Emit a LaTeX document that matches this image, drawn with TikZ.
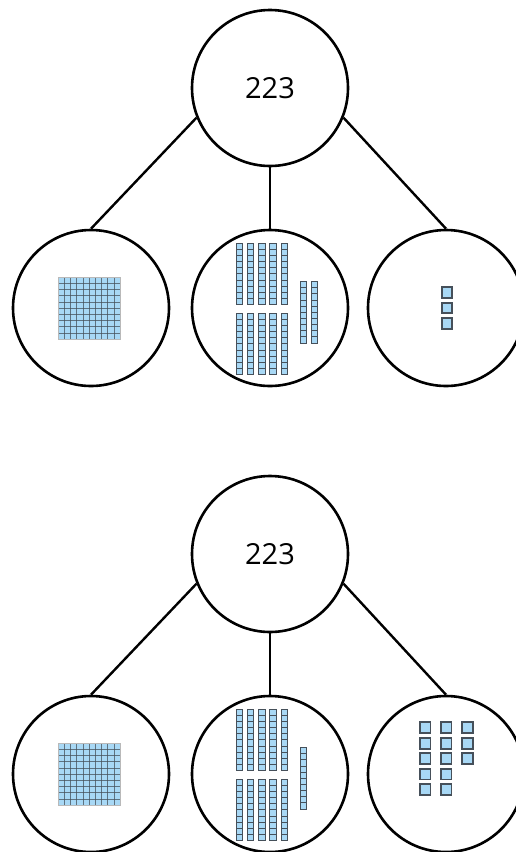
\documentclass[tikz,border=0pt]{standalone}
\usepackage{fontspec}
\setmainfont{Open Sans}
\definecolor{blockfill}{RGB}{168,216,245}
\definecolor{blockline}{RGB}{70,80,90}
\tikzset{
  circ/.style={circle,draw=black,line width=2.6pt,minimum size=156pt,inner sep=0pt,
    font=\fontsize{29}{29}\selectfont},
  link/.style={line width=2.4pt},
  cell/.style={fill=blockfill,draw=blockline,line width=1pt},
  onesq/.style={fill=blockfill,draw=blockline,line width=1.8pt},
  rod/.pic={
    \foreach \k in {0,...,9}
      \path[cell] (0,\k*6.13) rectangle ++(6.4,6.13);
  },
  flat/.pic={
    \fill[blockfill] (0,0) rectangle (62,62);
    \foreach \k in {1,...,9} {
      \draw[blockline,opacity=0.75,line width=0.9pt] (\k*6.2,0) -- (\k*6.2,62);
      \draw[blockline,opacity=0.75,line width=0.9pt] (0,\k*6.2) -- (62,\k*6.2);
    }
    \draw[gray!55,line width=1pt] (0,0) rectangle (62,62);
  },
  onebox/.pic={\path[onesq] (0,0) rectangle (10.4,10.4);},
}
\begin{document}
\begin{tikzpicture}[x=1pt,y=-1pt]
\useasboundingbox (0,0) rectangle (516,852);
\clip (0,0) rectangle (516,852);

% first decomposition: 100 + 120 + 3
\node[circ] (top1) at (270,88) {223};
\node[circ] (hun1) at (91,308) {};
\node[circ] (ten1) at (270,308) {};
\node[circ] (one1) at (446,308) {};
\draw[link] (top1.202) -- (hun1.north);
\draw[link] (top1.south) -- (ten1.north);
\draw[link] (top1.-22) -- (one1.north);

\pic at (58.3,277.3) {flat};
\foreach \i in {0,...,4} {
  \pic at (236.3+\i*11.2,243.3) {rod};
  \pic at (236.3+\i*11.2,313.3) {rod};
}
\pic at (300,281.7) {rod};
\pic at (311,281.7) {rod};
\foreach \r in {287.3,302.7,318.3}
  \pic at (441.7,\r) {onebox};

% second decomposition: 100 + 110 + 13
\node[circ] (top2) at (270,554) {223};
\node[circ] (hun2) at (91,774) {};
\node[circ] (ten2) at (270,774) {};
\node[circ] (one2) at (446,774) {};
\draw[link] (top2.202) -- (hun2.north);
\draw[link] (top2.south) -- (ten2.north);
\draw[link] (top2.-22) -- (one2.north);

\pic at (58.3,743.3) {flat};
\foreach \i in {0,...,4} {
  \pic at (236.3+\i*11.2,709.3) {rod};
  \pic at (236.3+\i*11.2,779.3) {rod};
}
\pic at (300,747.7) {rod};
\foreach \r in {722.3,738.3,753.3,769,784.3} {
  \pic at (420,\r) {onebox};
  \pic at (441,\r) {onebox};
}
\foreach \r in {722.3,738.3,753.3}
  \pic at (462.3,\r) {onebox};
\end{tikzpicture}
\end{document}
